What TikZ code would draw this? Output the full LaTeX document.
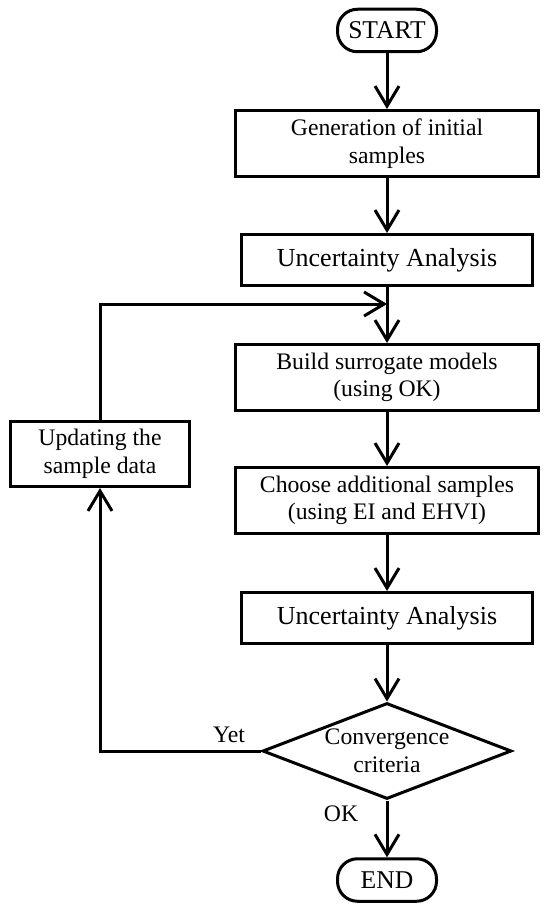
\documentclass[tikz,border=0pt]{standalone}
\usepackage{fontspec}
\setmainfont{Liberation Serif}
\usetikzlibrary{arrows.meta,shapes.geometric}
\tikzset{
  base/.style={draw=black, line width=3pt, inner sep=0pt, align=center,
    font=\fontsize{23.7pt}{27.5pt}\selectfont},
  term/.style={base, rounded corners=20pt, minimum width=99pt, minimum height=42.5pt,
    font=\fontsize{25.6pt}{28pt}\selectfont},
  procbox/.style={base, minimum width=303pt, minimum height=66pt},
  uabox/.style={base, minimum width=291pt, minimum height=51pt,
    font=\fontsize{26pt}{28pt}\selectfont},
  decbox/.style={base, diamond, minimum width=249pt, minimum height=96pt},
  lbl/.style={inner sep=0pt, anchor=base, font=\fontsize{23.7pt}{27.5pt}\selectfont},
  arr/.style={line width=3pt, -{Straight Barb[length=20pt,width=24pt]}}
}
\begin{document}
\begin{tikzpicture}[x=1pt,y=-1pt]
\useasboundingbox (0,0) rectangle (550,912);
\node[term] (start) at (387,30.5) {START};
\node[procbox] (gen) at (387,143.5) {Generation of initial\\samples};
\node[uabox] (ua1) at (387,260) {Uncertainty Analysis};
\node[procbox] (build) at (387,377.5) {Build surrogate models\\(using OK)};
\node[procbox] (choose) at (387,500.5) {Choose additional samples\\(using EI and EHVI)};
\node[base, minimum width=179pt, minimum height=65pt] (upd) at (100,454) {Updating the\\sample data};
\node[uabox] (ua2) at (387,618) {Uncertainty Analysis};
\node[decbox, label={[lbl, anchor=center, align=center]center:Convergence\\criteria}] (dec) at (387,751) {};
\node[term] (end) at (387,880) {END};
\coordinate (j) at (387,304);
\node[lbl] (yet) at (229,742) {Yet};
\node[lbl] (ok) at (341,821) {OK};

\draw[arr] (start) -- (gen);
\draw[arr] (gen) -- (ua1);
\draw[arr] (ua1) -- (build);
\draw[arr] (build) -- (choose);
\draw[arr] (choose) -- (ua2);
\draw[arr] (ua2) -- (dec);
\draw[arr] (dec) -- (end);
\draw[arr] (dec.west) -| (upd.south);
\draw[arr] (upd.north) |- (j);
\end{tikzpicture}
\end{document}
